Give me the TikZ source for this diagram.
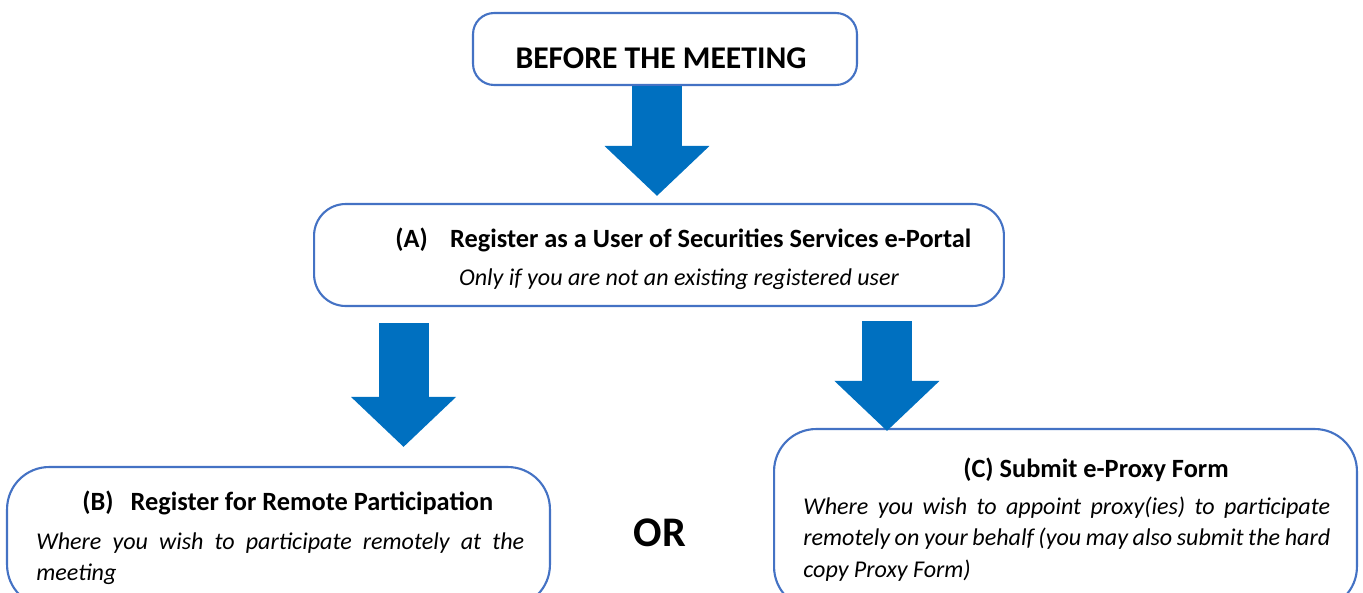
\documentclass[tikz,border=0pt]{standalone}
\usepackage{fontspec}
\setmainfont{Carlito}
\usetikzlibrary{arrows.meta}
\definecolor{boxblue}{HTML}{4472C4}
\definecolor{arrowblue}{HTML}{0070C0}
\tikzset{
	every node/.style={inner sep=0pt},
	box/.style={shape=rectangle,draw=boxblue,line width=1.2pt,fill=white},
	heading/.style={font=\fontsize{18}{21}\selectfont\bfseries},
	title/.style={font=\fontsize{15}{18}\selectfont\bfseries},
	note/.style={font=\fontsize{13.7}{18.2}\selectfont\itshape},
	bignote/.style={font=\fontsize{24}{28}\selectfont\bfseries},
}
\tikzstyle{bigarrow} = [draw=arrowblue,line width=1cm,-{Triangle[length=1cm,width=2.04cm]}]

\begin{document}
\begin{tikzpicture}[x=0.02cm,y=-0.02cm]
						\useasboundingbox (0,0) rectangle (1363,592);
						\clip (0,0) rectangle (1363,592);
						\node[box,rounded corners=12pt,minimum width=7.68cm,minimum height=1.44cm] (top) at (665,49) {};
						\node[box,rounded corners=18pt,minimum width=13.8cm,minimum height=2.04cm] (a) at (659,255) {};
						\node[box,rounded corners=24pt,minimum width=10.86cm,minimum height=2.8cm] (b) at (278.5,537) {};
						\node[box,rounded corners=24pt,minimum width=11.66cm,minimum height=3.6cm] (c) at (1065.5,519) {};
						
						\draw[bigarrow,shorten >=0.14cm] ([xshift=-0.16cm]top.south) -- ([xshift=-0.16cm]top.south |- a.north);
						\draw[bigarrow,shorten <=0.32cm,shorten >=0.38cm] ([xshift=-5.11cm]a.south) -- ([xshift=-5.11cm]a.south |- b.north);
						\draw[bigarrow,shorten <=0.28cm,shorten >=-0.06cm] ([xshift=4.56cm]a.south) -- ([xshift=4.56cm]a.south |- c.north);
						
						\node[heading,anchor=base] (topText) at (661,68) {BEFORE THE MEETING};
						\node[title,anchor=base west] (aTitle) at (395,247) {(A)\hspace{0.85em}Register as a User of Securities Services e-Portal};
						\node[note,anchor=base] (aNote) at (679,285) {Only if you are not an existing registered user};
						\node[title,anchor=base west] (bTitle) at (82,510) {(B)\hspace{0.65em}Register for Remote Participation};
						\node[note,anchor=base west,text width=9.76cm,align=justify] (bNote) at (36,549) {Where you wish to participate remotely at the\linebreak meeting};
						\node[title,anchor=base] (cTitle) at (1096,477) {(C) Submit e-Proxy Form};
						\node[note,anchor=base west,text width=10.54cm,align=justify] (cNote) at (803,514) {Where you wish to appoint proxy(ies) to participate\linebreak remotely on your behalf (you may also submit the hard\linebreak copy Proxy Form)};
						\node[bignote] (or) at (660,533) {OR};
					\end{tikzpicture}
\end{document}
